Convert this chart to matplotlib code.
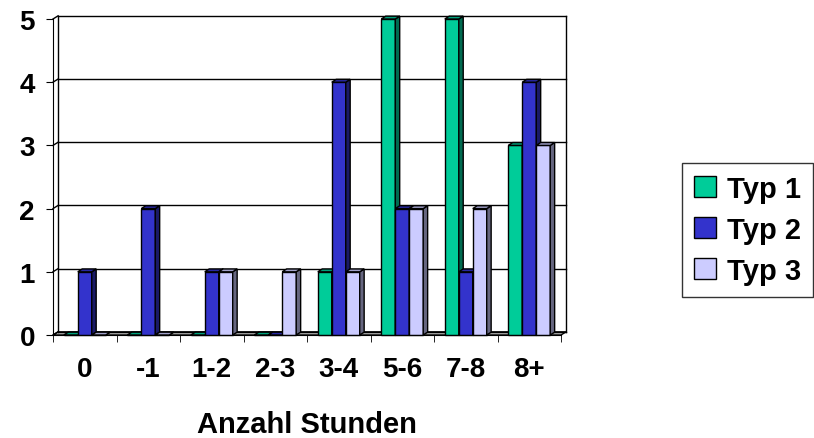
import numpy as np
import matplotlib.pyplot as plt
from matplotlib.patches import Polygon

plt.rcParams['font.family'] = ['Liberation Sans', 'DejaVu Sans']
plt.rcParams['font.weight'] = 'bold'

categories = ['0', '-1', '1-2', '2-3', '3-4', '5-6', '7-8', '8+']
typ1 = [0, 0, 0, 0, 1, 5, 5, 3]
typ2 = [1, 2, 1, 0, 4, 2, 1, 4]
typ3 = [0, 0, 1, 1, 1, 2, 2, 3]
series = ['Typ 1', 'Typ 2', 'Typ 3']

face = ['#00CC99', '#3333CC', '#CCCCFF']
side = ['#006B50', '#1A1A66', '#666680']
top = ['#00A07A', '#2828A0', '#A0A0C8']

fig = plt.figure(figsize=(8.14, 4.39), dpi=100)
W, H = 814, 439
ax = fig.add_axes([53 / W, (H - 336) / H, 508 / W, 316 / H])
ax.set_xlim(-0.5, 7.5)
ax.set_ylim(0, 5)

# depth offsets (data units)
dx, dy = 0.08, 0.05
bdx, bdy = 0.07, 0.045
n = len(categories)

# floor, back wall gridlines, side walls
ax.add_patch(Polygon([(-0.5, 0), (7.5, 0), (7.5 + dx, dy), (-0.5 + dx, dy)],
                     closed=True, fc='#C0C0C0', ec='black', lw=1, clip_on=False, zorder=1))
for k in range(0, 6):
    ax.plot([-0.5 + dx, 7.5 + dx], [k + dy, k + dy], color='black', lw=1, clip_on=False, zorder=1)
    ax.plot([-0.5, -0.5 + dx], [k, k + dy], color='black', lw=1, clip_on=False, zorder=1)
ax.plot([-0.5 + dx, -0.5 + dx], [dy, 5 + dy], color='black', lw=1, clip_on=False, zorder=1)
ax.plot([7.5 + dx, 7.5 + dx], [dy, 5 + dy], color='black', lw=1, clip_on=False, zorder=1)

# bars with side and top faces
bw = 0.22
handles = []
for j, vals in enumerate([typ1, typ2, typ3]):
    x0 = np.arange(n) - 1.5 * bw + j * bw
    bars = ax.bar(x0, vals, width=bw, align='edge', color=face[j], edgecolor='black',
                  linewidth=1, zorder=3 + j, label=series[j], clip_on=False)
    handles.append(bars)
    for xi, v in zip(x0, vals):
        ax.add_patch(Polygon([(xi + bw, 0), (xi + bw + bdx, bdy), (xi + bw + bdx, v + bdy), (xi + bw, v)],
                             closed=True, fc=side[j], ec='black', lw=1, clip_on=False, zorder=3 + j))
        ax.add_patch(Polygon([(xi, v), (xi + bdx, v + bdy), (xi + bw + bdx, v + bdy), (xi + bw, v)],
                             closed=True, fc=top[j], ec='black', lw=1, clip_on=False, zorder=3 + j))

for s in ['top', 'right']:
    ax.spines[s].set_visible(False)
ax.spines['left'].set_zorder(10)
ax.spines['bottom'].set_zorder(10)

fs = 20
ax.set_yticks(range(6))
ax.set_yticklabels([str(k) for k in range(6)], fontsize=fs, fontweight='bold')
ax.set_xticks(range(n))
ax.set_xticklabels(categories, fontsize=fs, fontweight='bold')
ax.set_xticks(np.arange(-0.5, n, 1), minor=True)
ax.tick_params(axis='x', which='major', length=0, pad=15)
ax.tick_params(axis='x', which='minor', length=5, direction='out')
ax.tick_params(axis='y', length=5, direction='out', pad=8)
ax.set_xlabel('Anzahl Stunden', fontsize=fs + 1, fontweight='bold', labelpad=20)

leg = fig.legend(handles=handles, labels=series, loc='upper left',
                 bbox_to_anchor=(682 / W, 1 - 164 / H), frameon=True, fancybox=False,
                 edgecolor='black', prop={'weight': 'bold', 'size': fs + 1},
                 handlelength=0.75, handleheight=0.75, handletextpad=0.4,
                 labelspacing=0.45, borderpad=0.4, borderaxespad=0)
leg.get_frame().set_linewidth(1)

fig.savefig('out.png', dpi=100)
